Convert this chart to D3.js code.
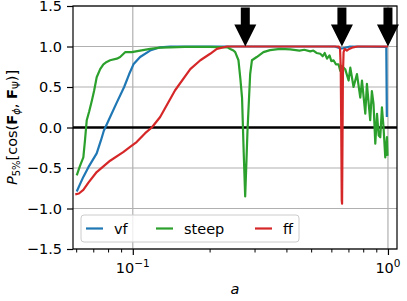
<!DOCTYPE html>
<html>
<head>
<meta charset="utf-8">
<script src="https://cdn.jsdelivr.net/npm/d3@7"></script>
<style>
  body { margin: 0; background: #fff; }
  text { font-family: "DejaVu Sans", sans-serif; }
</style>
</head>
<body>
<svg class="face" width="407" height="301"></svg>
<script>
const svg = d3.select('.face')
const width = +svg.attr('width')
const height = +svg.attr('height')
const margin = {top: 6, right: 10, bottom: 52, left: 73}
const innerWidth = width - margin.left - margin.right
const innerHeight = height - margin.top - margin.bottom

// [a, P5%] pairs
const vf = [
  [0.0603,-0.79],[0.0625,-0.68],[0.0640,-0.61],[0.0670,-0.49],[0.0722,-0.32],
  [0.0750,-0.16],[0.0770,-0.04],[0.0815,0.13],[0.0866,0.31],[0.0925,0.50],
  [0.0968,0.66],[0.1006,0.78],[0.1068,0.87],[0.1169,0.95],[0.128,0.99],
  [0.14,1.0],[0.62,1.0],[0.64,0.985],[0.66,0.975],[0.68,0.985],[0.71,1.0],
  [0.985,0.995],[0.99,0.13]
]
const steep = [
  [0.0603,-0.59],[0.0620,-0.48],[0.0640,-0.37],[0.0650,-0.15],[0.0660,0.09],
  [0.0675,0.20],[0.0691,0.33],[0.0705,0.45],[0.0722,0.62],[0.0745,0.72],
  [0.0767,0.78],[0.0790,0.81],[0.0815,0.83],[0.0866,0.85],[0.0892,0.87],
  [0.0933,0.93],[0.0991,0.93],[0.1068,0.95],[0.1169,0.97],[0.128,0.985],
  [0.14,0.99],[0.16,0.995],[0.20,0.995],[0.235,0.99],[0.241,0.97],
  [0.248,0.95],[0.252,0.93],[0.2595,0.83],[0.264,0.60],[0.268,0.37],
  [0.272,-0.30],[0.2757,-0.85],[0.279,-0.40],[0.2815,-0.04],[0.2884,0.66],
  [0.293,0.83],[0.306,0.87],[0.325,0.93],[0.345,0.955],[0.378,0.97],
  [0.414,0.965],[0.45,0.95],[0.47,0.96],[0.496,0.94],[0.51,0.95],
  [0.525,0.92],[0.543,0.91],[0.555,0.88],[0.565,0.92],[0.577,0.85],
  [0.59,0.89],[0.60,0.82],[0.612,0.83],[0.625,0.78],[0.64,0.78],
  [0.65,0.70],[0.66,0.76],[0.68,0.72],[0.701,0.58],[0.712,0.74],
  [0.733,0.50],[0.756,0.66],[0.779,0.37],[0.791,0.58],[0.815,0.17],
  [0.827,0.54],[0.84,0.30],[0.852,0.09],[0.865,0.45],[0.878,0.29],
  [0.892,-0.20],[0.906,0.17],[0.92,-0.10],[0.933,-0.12],[0.947,0.25],
  [0.961,0.0],[0.976,-0.37],[0.991,-0.12],[0.996,-0.35]
]
const ff = [
  [0.0595,-0.825],[0.0615,-0.815],[0.0640,-0.77],[0.0670,-0.68],[0.0722,-0.55],
  [0.0815,-0.41],[0.0920,-0.30],[0.0976,-0.24],[0.1035,-0.18],[0.1118,-0.07],
  [0.1187,0.0],[0.128,0.13],[0.1465,0.46],[0.168,0.72],[0.184,0.83],
  [0.201,0.91],[0.2135,0.97],[0.2337,1.0],[0.642,1.0],[0.649,0.97],
  [0.653,0.75],[0.656,0.0],[0.659,-0.90],[0.661,-0.94],[0.663,-0.3],
  [0.666,0.65],[0.670,0.93],[0.677,0.97],[0.69,0.95],[0.705,0.97],
  [0.73,0.99],[0.76,1.0],[1.0,1.0]
]
const series = [
  {name:'vf', data:vf, color:'#1f77b4'},
  {name:'steep', data:steep, color:'#2ca02c'},
  {name:'ff', data:ff, color:'#d62728'}
]
const arrowsAt = [0.276, 0.66, 1.0]
const yTicks = [-1.5,-1.0,-0.5,0.0,0.5,1.0,1.5]
const xMajor = [0.1, 1]
const xMajorExp = ['\u22121', '0']
const xMinor = [0.06,0.07,0.08,0.09,0.2,0.3,0.4,0.5,0.6,0.7,0.8,0.9]

const xScale = d3.scaleLog().domain([0.0583, 1.085]).range([0, innerWidth])
const yScale = d3.scaleLinear().domain([-1.5, 1.5]).range([innerHeight, 0])

const g = svg.append('g')
  .attr('transform', `translate(${margin.left},${margin.top})`)

g.append('clipPath').attr('id','clip')
  .append('rect').attr('width', innerWidth).attr('height', innerHeight)

// grid
g.selectAll('.hgrid').data(yTicks).enter().append('line')
  .attr('x1',0).attr('x2',innerWidth)
  .attr('y1',d=>yScale(d)).attr('y2',d=>yScale(d))
  .attr('stroke','#b0b0b0').attr('stroke-width',1.2)
g.selectAll('.vgrid').data(xMajor).enter().append('line')
  .attr('x1',d=>xScale(d)).attr('x2',d=>xScale(d))
  .attr('y1',0).attr('y2',innerHeight)
  .attr('stroke','#b0b0b0').attr('stroke-width',1.2)

// zero line
g.append('line')
  .attr('x1',0).attr('x2',innerWidth)
  .attr('y1',yScale(0)).attr('y2',yScale(0))
  .attr('stroke','#000').attr('stroke-width',2.6)

const line = d3.line().x(d=>xScale(d[0])).y(d=>yScale(d[1]))
g.append('g').attr('clip-path','url(#clip)')
  .selectAll('path').data(series).enter().append('path')
  .attr('d', d=>line(d.data))
  .attr('fill','none')
  .attr('stroke', d=>d.color)
  .attr('stroke-width',2.2)
  .attr('stroke-linejoin','round')

// arrows
const arrow = a => {
  const x = xScale(a), tip = yScale(1.0), top = yScale(1.48)
  const hb = tip - 22, sw = 4.5, hw = 11
  return [[x-sw,top],[x+sw,top],[x+sw,hb],[x+hw,hb],[x,tip],[x-hw,hb],[x-sw,hb]]
}
g.selectAll('.arrow').data(arrowsAt).enter().append('polygon')
  .attr('points', d=>arrow(d).map(p=>p.join(',')).join(' '))
  .attr('fill','#000')

// axes
const yAxis = g.append('g').call(d3.axisLeft(yScale).tickValues(yTicks)
  .tickFormat(d=>d3.format('.1f')(d).replace('-','\u2212')).tickSizeOuter(0).tickSize(6).tickPadding(5))
yAxis.select('.domain').remove()
yAxis.selectAll('text').attr('font-size',14.5).attr('fill','#000')
  .attr('font-family','DejaVu Sans')
yAxis.selectAll('line').attr('stroke-width',1.2)

const xAxis = g.append('g').attr('transform',`translate(0,${innerHeight})`)
  .call(d3.axisBottom(xScale).tickValues(xMajor).tickFormat('').tickSizeOuter(0).tickSize(6))
xAxis.select('.domain').remove()
xAxis.selectAll('text').remove()
xAxis.selectAll('line').attr('stroke-width',1.2)
g.append('g').attr('transform',`translate(0,${innerHeight})`)
  .call(d3.axisBottom(xScale).tickValues(xMinor).tickFormat('').tickSizeOuter(0).tickSize(3.5))
  .call(a=>{ a.select('.domain').remove(); a.selectAll('text').remove() })
  .selectAll('line').attr('stroke-width',1)

const xl = g.selectAll('.xlab').data(xMajor).enter().append('text')
  .attr('x', d=>xScale(d)).attr('y', innerHeight+24)
  .attr('text-anchor','middle').attr('font-size',14.5)
xl.append('tspan').text('10')
xl.append('tspan').attr('dy',-6).attr('font-size',10.5).text((d,i)=>xMajorExp[i])

// frame
g.append('rect').attr('width',innerWidth).attr('height',innerHeight)
  .attr('fill','none').attr('stroke','#000').attr('stroke-width',1.2)

// labels
svg.append('text')
  .attr('x', margin.left + innerWidth/2).attr('y', 294)
  .attr('text-anchor','middle').attr('font-size',14.5)
  .attr('font-style','italic').text('a')

const yl = svg.append('text')
  .attr('transform', `translate(17,${margin.top + innerHeight/2}) rotate(-90)`)
  .attr('text-anchor','middle').attr('font-size',14.5)
yl.append('tspan').attr('font-style','italic').text('P')
yl.append('tspan').attr('font-size',10).attr('dy',3).text('5%')
yl.append('tspan').attr('dy',-3).text('[cos(')
yl.append('tspan').attr('font-weight','bold').text('F')
yl.append('tspan').attr('font-size',10).attr('dy',3).attr('font-style','italic').text('\u03d5')
yl.append('tspan').attr('dy',-3).text(', ')
yl.append('tspan').attr('font-weight','bold').text('F')
yl.append('tspan').attr('font-size',10).attr('dy',3).text('\u03a8')
yl.append('tspan').attr('dy',-3).text(')]')

// legend
const lg = svg.append('g').attr('transform','translate(81,215)')
lg.append('rect').attr('width',218).attr('height',27).attr('rx',3)
  .attr('fill','#fff').attr('fill-opacity',0.8)
  .attr('stroke','#cccccc').attr('stroke-width',1)
const lx = [5, 75, 174]
const item = lg.selectAll('.item').data(series).enter().append('g')
  .attr('transform',(d,i)=>`translate(${lx[i]},13.5)`)
item.append('line').attr('x1',0).attr('x2',17)
  .attr('stroke',d=>d.color).attr('stroke-width',2.2)
item.append('text').attr('x',28).attr('dy','0.35em')
  .attr('font-size',14.5).text(d=>d.name)
</script>
</body>
</html>
